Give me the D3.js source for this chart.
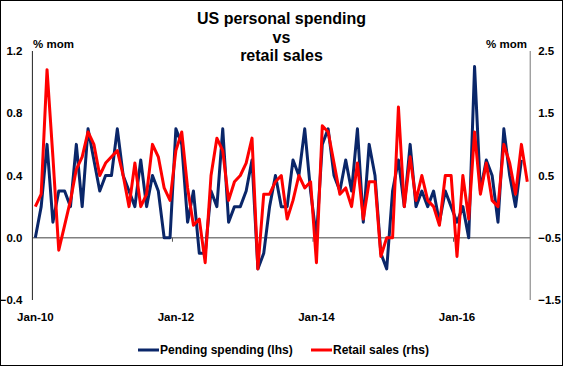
<!DOCTYPE html>
<html><head><meta charset="utf-8">
<script src="https://cdn.jsdelivr.net/npm/d3@7"></script>
<style>
html,body{margin:0;padding:0;background:#fff;}
svg text{font-family:"Liberation Sans",Arial,sans-serif;font-weight:bold;fill:#000;}
</style></head>
<body>
<svg id="chart" width="563" height="366"></svg>
<script>
// ---- data (monthly, starting Jan-10) ----
const titleLines = ["US personal spending", "vs", "retail sales"];
const seriesNames = ["Pending spending (lhs)", "Retail sales (rhs)"];
const spending = [0.0,0.2,0.6,0.1,0.3,0.3,0.2,0.6,0.2,0.7,
  0.5,0.3,0.4,0.4,0.7,0.4,0.3,0.2,0.5,0.2,
  0.4,0.3,0.0,0.0,0.7,0.6,0.1,0.3,-0.1,-0.1,
  0.3,0.2,0.7,0.1,0.2,0.2,0.3,0.5,-0.2,-0.1,
  0.2,0.4,0.2,0.2,0.5,0.4,0.7,0.3,0.0,0.6,
  0.7,0.4,0.3,0.5,0.3,0.7,0.1,0.6,0.4,-0.1,
  -0.2,0.3,0.5,0.2,0.6,0.2,0.3,0.2,0.3,0.1,
  0.3,0.2,0.1,0.2,0.0,1.1,0.3,0.5,0.4,0.1,
  0.7,0.4,0.2,0.5];
const retail = [0.0,0.2,2.2,0.8,-0.7,-0.3,0.1,0.6,0.8,1.2,
  1.0,0.5,0.7,0.8,0.9,0.5,0.0,0.7,0.0,0.2,
  1.0,0.8,0.3,0.1,0.9,1.2,0.3,-0.3,-0.2,-0.9,
  0.5,1.1,0.9,0.1,0.4,0.5,0.7,1.1,-1.0,0.2,
  0.2,0.4,0.5,-0.2,0.1,0.5,0.3,0.4,-0.9,1.3,
  1.2,0.7,0.2,0.3,0.0,0.7,-0.2,0.4,0.4,-0.8,
  -0.5,-0.5,1.6,0.0,0.8,0.1,0.5,0.1,0.0,-0.3,
  0.5,0.5,-0.8,0.5,-0.2,1.2,0.2,0.7,0.1,0.0,
  1.0,0.7,0.2,1.0,0.4];
const leftTicks = [-0.4, 0.0, 0.4, 0.8, 1.2];
const rightTicks = [-1.5, -0.5, 0.5, 1.5, 2.5];
const xTickLabels = ["Jan-10", "Jan-12", "Jan-14", "Jan-16"];
const xTickIndex = [0, 24, 48, 72];
const unitLabel = "% mom";

// ---- layout ----
const W = 563, H = 366;
const plot = {left: 32.4, right: 530.2, top: 51, bottom: 300};
const svg = d3.select("#chart");
svg.append("rect").attr("x",0.5).attr("y",0.5).attr("width",W-1).attr("height",H-1)
  .attr("fill","#fff").attr("stroke","#000").attr("stroke-width",1);

const n = retail.length;
const x = d3.scaleBand().domain(d3.range(n)).range([plot.left, plot.right]).paddingInner(0).paddingOuter(0);
const cx = i => x(i) + x.bandwidth()/2;
const yL = d3.scaleLinear().domain([-0.4, 1.2]).range([plot.bottom, plot.top]);
const yR = d3.scaleLinear().domain([-1.5, 2.5]).range([plot.bottom, plot.top]);

// title
svg.append("g").selectAll("text").data(titleLines).join("text")
  .attr("x", 281.5).attr("y", (d,i) => 24 + i*18.6)
  .attr("text-anchor","middle").style("font-size","16px").text(d => d);

// zero line
svg.append("line").attr("x1",plot.left).attr("x2",plot.right)
  .attr("y1",yL(0)).attr("y2",yL(0)).attr("stroke","#808080").attr("stroke-width",1.3);
// category ticks on zero line (every 24 months, between categories)
const tickBoundaries = [24, 48, 72];
svg.append("g").selectAll("line").data(tickBoundaries).join("line")
  .attr("x1", d => x(d) - 0.5).attr("x2", d => x(d) - 0.5)
  .attr("y1", yL(0)).attr("y2", yL(0) + 4)
  .attr("stroke","#555").attr("stroke-width",1);

// axis lines
svg.append("line").attr("x1",plot.left).attr("x2",plot.left)
  .attr("y1",plot.top).attr("y2",plot.bottom).attr("stroke","#222").attr("stroke-width",1);
svg.append("line").attr("x1",plot.right).attr("x2",plot.right)
  .attr("y1",plot.top).attr("y2",plot.bottom).attr("stroke","#777").attr("stroke-width",1);

// left axis labels
const gL = svg.append("g").attr("transform",`translate(${plot.left},0)`)
  .call(d3.axisLeft(yL).tickValues(leftTicks).tickFormat(d3.format(".1f")).tickSize(0).tickPadding(10));
gL.select(".domain").remove();
gL.selectAll("text").style("font-size","11.5px").style("font-family",'"Liberation Sans",Arial,sans-serif').style("font-weight","bold").attr("fill","#000");

// right axis labels
const gR = svg.append("g").attr("transform",`translate(${plot.right},0)`)
  .call(d3.axisRight(yR).tickValues(rightTicks).tickFormat(d3.format(".1f")).tickSize(0).tickPadding(8));
gR.select(".domain").remove();
gR.selectAll("text").style("font-size","11.5px").style("font-family",'"Liberation Sans",Arial,sans-serif').style("font-weight","bold").attr("fill","#000");

// unit labels
svg.append("text").attr("x", 33).attr("y", 48).style("font-size","11.5px").text(unitLabel);
svg.append("text").attr("x", 527).attr("y", 48).attr("text-anchor","end").style("font-size","11.5px").text(unitLabel);

// x labels
const gX = svg.append("g").attr("transform",`translate(0,${plot.bottom})`)
  .call(d3.axisBottom(x).tickValues(xTickIndex).tickFormat((d,i) => xTickLabels[i]).tickSize(0).tickPadding(13));
gX.select(".domain").remove();
gX.selectAll("text").style("font-size","11.5px").style("font-family",'"Liberation Sans",Arial,sans-serif').style("font-weight","bold").attr("fill","#000");

// lines
const blue = "#0a2669", red = "#ff0000";
const lineL = d3.line().x((d,i) => cx(i)).y(d => yL(d));
const lineR = d3.line().x((d,i) => cx(i)).y(d => yR(d));
svg.append("path").datum(spending).attr("d", lineL)
  .attr("fill","none").attr("stroke",blue).attr("stroke-width",3).attr("stroke-linejoin","round");
svg.append("path").datum(retail).attr("d", lineR)
  .attr("fill","none").attr("stroke",red).attr("stroke-width",3).attr("stroke-linejoin","round");

// legend
const legendItems = [
  {name: seriesNames[0], color: blue, x: 138},
  {name: seriesNames[1], color: red, x: 311}
];
const lg = svg.append("g").selectAll("g").data(legendItems).join("g")
  .attr("transform", d => `translate(${d.x},350)`);
lg.append("line").attr("x1",0).attr("x2",21).attr("y1",0).attr("y2",0)
  .attr("stroke", d => d.color).attr("stroke-width",3);
lg.append("text").attr("x",22).attr("y",4.2).style("font-size","12px").text(d => d.name);
</script>
</body></html>
